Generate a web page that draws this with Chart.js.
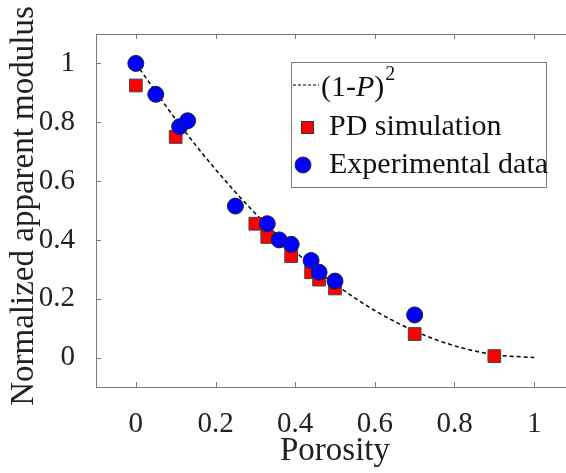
<!DOCTYPE html>
<html lang="en">
<head>
  <meta charset="UTF-8"/>
  <title>Normalized apparent modulus vs porosity</title>
  <script src="https://cdn.jsdelivr.net/npm/chart.js"></script>
  <style>
    html, body { margin:0; padding:0; background:#fff; overflow:hidden; }
    canvas { display:block; }
  </style>
</head>
<body>
<canvas id="modChart" width="574" height="473"></canvas>
<script>
  // values
  const curveP = [0, 0.1, 0.2, 0.3, 0.4, 0.5, 0.6, 0.7, 0.8, 0.9, 1.0];
  const curveE = [1, 0.81, 0.64, 0.49, 0.36, 0.25, 0.16, 0.09, 0.04, 0.01, 0];

  const pdP = [0, 0.1, 0.3, 0.33, 0.39, 0.44, 0.46, 0.5, 0.7, 0.9];
  const pdE = [0.925, 0.75, 0.455, 0.41, 0.345, 0.29, 0.265, 0.235, 0.08, 0.005];

  const expP = [0, 0.05, 0.11, 0.13, 0.25, 0.33, 0.36, 0.39, 0.44, 0.46, 0.5, 0.7];
  const expE = [1.0, 0.895, 0.785, 0.805, 0.515, 0.455, 0.40, 0.385, 0.33, 0.29, 0.26, 0.145];

  const xTicks = [0, 0.2, 0.4, 0.6, 0.8, 1];
  const xTickLabels = ['0', '0.2', '0.4', '0.6', '0.8', '1'];
  const yTicks = [0, 0.2, 0.4, 0.6, 0.8, 1];
  const yTickLabels = ['0', '0.2', '0.4', '0.6', '0.8', '1'];

  const SERIF = "'Liberation Serif','Times New Roman',serif";
  const AXIS = '#7a7a7a';

  const pairs = (xs, ys) => xs.map((x, i) => ({x, y: ys[i]}));

  // frame, inward ticks, y title and legend, MATLAB style
  const matlabBox = {
    id: 'matlabBox',
    afterDraw(chart) {
      const {ctx, chartArea: a, scales: {x, y}} = chart;
      ctx.save();
      ctx.strokeStyle = AXIS; ctx.lineWidth = 1;
      ctx.beginPath();
      ctx.moveTo(a.left, a.top + 0.5); ctx.lineTo(a.right, a.top + 0.5);
      ctx.moveTo(a.right - 0.5, a.top); ctx.lineTo(a.right - 0.5, a.bottom);
      xTicks.forEach(v => {
        const px = Math.round(x.getPixelForValue(v)) + 0.5;
        ctx.moveTo(px, a.bottom); ctx.lineTo(px, a.bottom - 5);
        ctx.moveTo(px, a.top); ctx.lineTo(px, a.top + 5);
      });
      yTicks.forEach(v => {
        const py = Math.round(y.getPixelForValue(v)) + 0.5;
        ctx.moveTo(a.left, py); ctx.lineTo(a.left + 5, py);
        ctx.moveTo(a.right, py); ctx.lineTo(a.right - 5, py);
      });
      ctx.stroke();

      // y axis title (drawn here so it is not squeezed to the axis height)
      ctx.fillStyle = '#222';
      ctx.font = '33px ' + SERIF;
      ctx.textAlign = 'center'; ctx.textBaseline = 'middle';
      ctx.translate(24, 206); ctx.rotate(-Math.PI / 2);
      ctx.fillText('Normalized apparent modulus', 0, 0);
      ctx.restore();

      // legend box
      ctx.save();
      const L = 291, T = 62, R = 546, B = 187;
      ctx.fillStyle = '#fff'; ctx.fillRect(L, T, R - L, B - T);
      ctx.strokeStyle = AXIS; ctx.lineWidth = 1;
      ctx.strokeRect(L + 0.5, T + 0.5, R - L, B - T);

      const rows = [88, 127, 165];
      ctx.strokeStyle = '#000'; ctx.lineWidth = 1.2; ctx.setLineDash([3, 2]);
      ctx.beginPath(); ctx.moveTo(293, rows[0] - 3); ctx.lineTo(319, rows[0] - 3); ctx.stroke();
      ctx.setLineDash([]);

      ctx.fillStyle = '#f00'; ctx.strokeStyle = '#333'; ctx.lineWidth = 1;
      ctx.fillRect(301, rows[1] - 6, 12, 12); ctx.strokeRect(301.5, rows[1] - 5.5, 12, 12);
      ctx.fillStyle = '#00f';
      ctx.beginPath(); ctx.arc(303, rows[2], 8, 0, Math.PI * 2); ctx.fill(); ctx.stroke();

      ctx.fillStyle = '#111'; ctx.textAlign = 'left'; ctx.textBaseline = 'middle';
      let tx = 321;
      const seg = (t, f) => { ctx.font = f; ctx.fillText(t, tx, rows[0]); tx += ctx.measureText(t).width; };
      seg('(1-', '30px ' + SERIF);
      seg('P', 'italic 30px ' + SERIF);
      seg(')', '30px ' + SERIF);
      ctx.font = '20px ' + SERIF; ctx.fillText('2', tx + 1, rows[0] - 13);
      ctx.font = '30px ' + SERIF;
      ctx.fillText('PD simulation', 329, rows[1]);
      ctx.fillText('Experimental data', 329, rows[2]);
      ctx.restore();
    }
  };

  new Chart(document.getElementById('modChart'), {
    type: 'scatter',
    data: {
      datasets: [
        { label: 'Experimental data', data: pairs(expP, expE), order: 0,
          pointStyle: 'circle', pointRadius: 8, pointBackgroundColor: '#0000ff',
          pointBorderColor: '#222', pointBorderWidth: 1, showLine: false },
        { label: 'PD simulation', data: pairs(pdP, pdE), order: 1,
          pointStyle: 'rect', pointRadius: 9, pointBackgroundColor: '#ff0000',
          pointBorderColor: '#444', pointBorderWidth: 1, showLine: false },
        { label: '(1-P)^2', data: pairs(curveP, curveE), order: 2,
          showLine: true, pointRadius: 0, borderColor: '#000', borderWidth: 1.5,
          borderDash: [4, 3], cubicInterpolationMode: 'monotone', fill: false }
      ]
    },
    options: {
      responsive: false, animation: false,
      layout: { autoPadding: false, padding: { top: 34, right: 0, left: 0, bottom: 0 } },
      plugins: { legend: { display: false }, tooltip: { enabled: false } },
      scales: {
        x: {
          type: 'linear', min: -0.1, max: 1.1,
          grid: { display: false },
          border: { display: true, color: AXIS, width: 1 },
          afterBuildTicks: s => { s.ticks = xTicks.map(v => ({value: v})); },
          afterFit: s => { s.height = 86; s.paddingLeft = 0; s.paddingRight = 0; },
          ticks: { padding: 12, color: '#222', font: { family: SERIF, size: 29 },
                   callback: (v, i) => xTickLabels[i] },
          title: { display: true, text: 'Porosity', color: '#222',
                   font: { family: SERIF, size: 33 }, padding: { top: 0, bottom: 2 } }
        },
        y: {
          type: 'linear', min: -0.1, max: 1.1,
          grid: { display: false },
          border: { display: true, color: AXIS, width: 1 },
          afterBuildTicks: s => { s.ticks = yTicks.map(v => ({value: v})); },
          afterFit: s => { s.width = 96; s.paddingTop = 0; s.paddingBottom = 0; },
          ticks: { padding: 13, color: '#222', font: { family: SERIF, size: 29 },
                   callback: (v, i) => yTickLabels[i] }
        }
      }
    },
    plugins: [matlabBox]
  });
</script>
</body>
</html>
